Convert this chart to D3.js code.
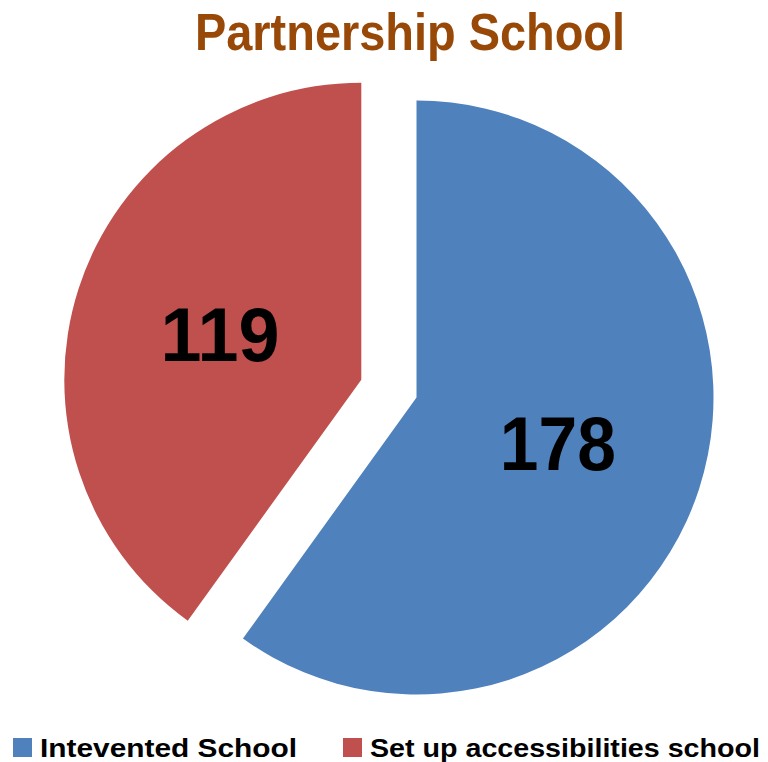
<!DOCTYPE html>
<html>
<head>
<meta charset="utf-8">
<script src="https://cdn.jsdelivr.net/npm/d3@7"></script>
<style>
html,body{margin:0;padding:0;background:#fff;}
svg{display:block;}
</style>
</head>
<body>
<svg id="chart" width="768" height="762"></svg>
<script>
const title = "Partnership School";
const categories = ["Intevented School", "Set up accessibilities school"];
const values = [178, 119];
const colors = ["#4F81BD", "#C0504D"];
const exploded = [0, 58];

const svg = d3.select("#chart");
const W = 768, H = 762;
const cx = 416.5, cy = 397.5, r = 297;

svg.append("text")
  .attr("x", 410).attr("y", 50)
  .attr("text-anchor", "middle")
  .attr("font-family", "Liberation Sans, Arial, sans-serif")
  .attr("font-weight", "bold")
  .attr("font-size", 52)
  .attr("fill", "#984807")
  .attr("textLength", 430)
  .attr("lengthAdjust", "spacingAndGlyphs")
  .text(title);

const pie = d3.pie().sort(null).value(d => d)(values);
const arc = d3.arc().innerRadius(0).outerRadius(r);

const g = svg.append("g").attr("transform", `translate(${cx},${cy})`);
const slices = g.selectAll("g.slice").data(pie).enter().append("g")
  .attr("class", "slice")
  .attr("transform", (d, i) => {
    const a = (d.startAngle + d.endAngle) / 2;
    const e = exploded[i];
    return `translate(${e * Math.sin(a)},${-e * Math.cos(a)})`;
  });

slices.append("path")
  .attr("d", arc)
  .attr("fill", (d, i) => colors[i]);

const labelWidths = [116, 119];
slices.append("text")
  .attr("transform", d => `translate(${arc.centroid(d)})`)
  .attr("dy", "0.36em")
  .attr("text-anchor", "middle")
  .attr("font-family", "Liberation Sans, Arial, sans-serif")
  .attr("font-weight", "bold")
  .attr("font-size", 76)
  .attr("fill", "#000")
  .attr("textLength", (d, i) => labelWidths[i])
  .attr("lengthAdjust", "spacingAndGlyphs")
  .text(d => d.data);

// legend
const legendX = [13, 343];
const legendTextW = [257, 390];
const lg = svg.append("g").selectAll("g").data(categories).enter().append("g")
  .attr("transform", (d, i) => `translate(${legendX[i]},738)`);
lg.append("rect").attr("width", 19).attr("height", 19).attr("fill", (d, i) => colors[i]);
lg.append("text")
  .attr("x", 27).attr("y", 19)
  .attr("font-family", "Liberation Sans, Arial, sans-serif")
  .attr("font-weight", "bold")
  .attr("font-size", 26.5)
  .attr("fill", "#000")
  .attr("textLength", (d, i) => legendTextW[i])
  .attr("lengthAdjust", "spacingAndGlyphs")
  .text(d => d);
</script>
</body>
</html>
